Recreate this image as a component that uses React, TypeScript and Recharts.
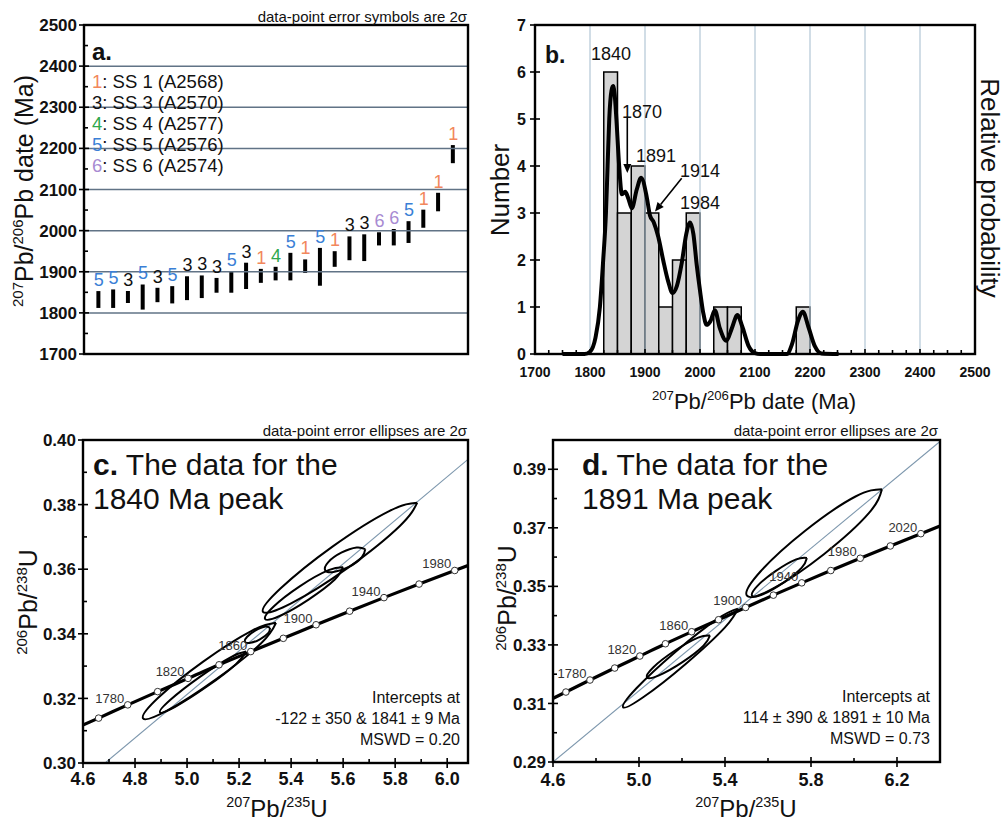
import React from "react";
import { ComposedChart, Bar, Line, Scatter, XAxis, YAxis, ReferenceLine, ReferenceArea } from "recharts";

const FONT = '"Liberation Sans", Arial, Helvetica, sans-serif';

// ---------- panel a: 207Pb/206Pb dates (2 sigma), sorted ----------
const grainNo = [1, 2, 3, 4, 5, 6, 7, 8, 9, 10, 11, 12, 13, 14, 15, 16, 17, 18, 19, 20, 21, 22, 23, 24, 25];
const dateLow = [1812, 1812, 1824, 1808, 1826, 1823, 1831, 1836, 1849, 1849, 1858, 1873, 1879, 1879, 1897, 1866, 1912, 1928, 1926, 1964, 1964, 1970, 2007, 2047, 2164];
const dateHigh = [1853, 1857, 1853, 1869, 1861, 1865, 1889, 1891, 1885, 1901, 1922, 1907, 1912, 1946, 1930, 1958, 1950, 1986, 1991, 1996, 2004, 2023, 2051, 2092, 2208];
const grainSample = [5, 5, 3, 5, 3, 5, 3, 3, 3, 5, 3, 1, 4, 5, 1, 5, 1, 3, 3, 6, 6, 5, 1, 1, 1];
const sampleIds = [1, 3, 4, 5, 6];
const sampleNames = ["SS 1 (A2568)", "SS 3 (A2570)", "SS 4 (A2577)", "SS 5 (A2576)", "SS 6 (A2574)"];
const sampleColors: Record<number, string> = { 1: "#f2875c", 3: "#111111", 4: "#2ea84c", 5: "#3a7fd6", 6: "#a88bd2" };
const aGrid = [1800, 1900, 2000, 2100, 2200, 2300, 2400];
const aTicksMajor = [1700, 1800, 1900, 2000, 2100, 2200, 2300, 2400, 2500];
const aTicksMinor = [1750, 1850, 1950, 2050, 2150, 2250, 2350, 2450];

// ---------- panel b: histogram (25 Ma bins) + probability curve ----------
const binStart = [1825, 1850, 1875, 1900, 1925, 1950, 1975, 2025, 2050, 2175];
const binWidth = 25;
const binCount = [6, 3, 4, 3, 1, 2, 3, 1, 1, 1];
const probDate = [1750, 1790, 1800, 1810, 1818, 1824, 1829, 1832, 1835, 1839, 1842, 1845, 1848, 1853, 1858, 1864, 1870, 1876, 1885, 1893, 1903, 1909, 1916, 1924, 1933, 1942, 1950, 1958, 1967, 1975, 1982, 1988, 1994, 2000, 2006, 2012, 2019, 2027, 2036, 2048, 2058, 2068, 2077, 2088, 2100, 2110, 2158, 2167, 2178, 2187, 2197, 2209, 2221, 2252];
const probValue = [0, 0, 0.05, 0.35, 1.0, 2.0, 3.0, 4.0, 5.0, 5.6, 5.7, 5.5, 5.0, 4.0, 3.4, 3.45, 3.3, 3.1, 3.5, 3.75, 3.35, 2.95, 2.8, 2.5, 2.0, 1.55, 1.3, 1.45, 1.95, 2.55, 2.8, 2.55, 1.9, 1.35, 0.87, 0.62, 0.7, 0.93, 0.55, 0.28, 0.55, 0.83, 0.58, 0.18, 0.02, 0, 0, 0.2, 0.7, 0.9, 0.58, 0.16, 0.01, 0];
const bGrid = [1800, 1900, 2000, 2100, 2200, 2300, 2400];
const bTicksMajor = [1700, 1800, 1900, 2000, 2100, 2200, 2300, 2400, 2500];
const bTicksMinor = [1725, 1750, 1775, 1825, 1850, 1875, 1925, 1950, 1975, 2025, 2050, 2075, 2125, 2150, 2175, 2225, 2250, 2275, 2325, 2350, 2375, 2425, 2450, 2475];
const bTicksY = [0, 1, 2, 3, 4, 5, 6, 7];
const peakArrows = [
  { from: [1867.8, 5.05], to: [1867.8, 3.85] },
  { from: [1966.7, 3.74], to: [1918.2, 3.03] },
];

// ---------- panels c, d: concordia ----------
const concAge = [1740, 1760, 1780, 1800, 1820, 1840, 1860, 1880, 1900, 1920, 1940, 1960, 1980, 2000, 2020, 2040];
const concX = [4.549, 4.660, 4.772, 4.887, 5.004, 5.123, 5.245, 5.370, 5.496, 5.625, 5.757, 5.892, 6.029, 6.169, 6.311, 6.457];
const concY = [0.3099, 0.3139, 0.3180, 0.3221, 0.3262, 0.3304, 0.3345, 0.3386, 0.3428, 0.3470, 0.3512, 0.3554, 0.3596, 0.3638, 0.3680, 0.3723];
const concLabelsC = [1780, 1820, 1860, 1900, 1940, 1980];
const concLabelsD = [1780, 1820, 1860, 1900, 1940, 1980, 2020];

const discordC: [number, number][] = [[4.685, 0.300], [6.08, 0.394]];
const discordD: [number, number][] = [[4.6, 0.290], [6.4, 0.3995]];

// error ellipses, points read around each outline
const ellipsesC: [number, number][][] = [
  [[5.885, 0.3806], [5.818, 0.3734], [5.618, 0.3604], [5.400, 0.3494], [5.292, 0.3468], [5.359, 0.3540], [5.559, 0.3670], [5.777, 0.3780], [5.885, 0.3806]],
  [[5.685, 0.3662], [5.672, 0.3637], [5.622, 0.3607], [5.563, 0.3591], [5.531, 0.3597], [5.543, 0.3622], [5.593, 0.3651], [5.652, 0.3667], [5.685, 0.3662]],
  [[5.600, 0.3606], [5.568, 0.3568], [5.467, 0.3506], [5.356, 0.3455], [5.300, 0.3446], [5.332, 0.3484], [5.433, 0.3547], [5.544, 0.3597], [5.600, 0.3606]],
  [[5.342, 0.3434], [5.285, 0.3371], [5.111, 0.3259], [4.923, 0.3162], [4.831, 0.3138], [4.888, 0.3201], [5.062, 0.3314], [5.250, 0.3410], [5.342, 0.3434]],
  [[5.227, 0.3345], [5.188, 0.3306], [5.075, 0.3236], [4.954, 0.3174], [4.896, 0.3157], [4.935, 0.3195], [5.048, 0.3266], [5.169, 0.3328], [5.227, 0.3345]],
  [[5.319, 0.3418], [5.312, 0.3402], [5.280, 0.3383], [5.244, 0.3372], [5.223, 0.3375], [5.231, 0.3391], [5.262, 0.3410], [5.298, 0.3422], [5.319, 0.3418]],
];
const ellipsesD: [number, number][][] = [
  [[6.130, 0.3832], [6.069, 0.3750], [5.860, 0.3610], [5.625, 0.3493], [5.502, 0.3468], [5.564, 0.3550], [5.773, 0.3690], [6.007, 0.3807], [6.130, 0.3832]],
  [[5.781, 0.3597], [5.757, 0.3564], [5.672, 0.3513], [5.576, 0.3473], [5.526, 0.3468], [5.550, 0.3501], [5.635, 0.3552], [5.731, 0.3592], [5.781, 0.3597]],
  [[5.330, 0.3332], [5.300, 0.3297], [5.202, 0.3241], [5.093, 0.3196], [5.037, 0.3189], [5.067, 0.3224], [5.166, 0.3280], [5.275, 0.3325], [5.330, 0.3332]],
  [[5.460, 0.3424], [5.400, 0.3360], [5.217, 0.3235], [5.021, 0.3122], [4.926, 0.3087], [4.987, 0.3151], [5.169, 0.3276], [5.365, 0.3389], [5.460, 0.3424]],
];

const cTicksXMajor = [4.6, 4.8, 5.0, 5.2, 5.4, 5.6, 5.8, 6.0];
const cTicksXMinor = [4.7, 4.9, 5.1, 5.3, 5.5, 5.7, 5.9];
const cTicksYMajor = [0.30, 0.32, 0.34, 0.36, 0.38, 0.40];
const cTicksYMinor = [0.31, 0.33, 0.35, 0.37, 0.39];
const dTicksXMajor = [4.6, 5.0, 5.4, 5.8, 6.2];
const dTicksXMinor = [4.8, 5.2, 5.6, 6.0];
const dTicksYMajor = [0.29, 0.31, 0.33, 0.35, 0.37, 0.39];
const dTicksYMinor = [0.30, 0.32, 0.34, 0.36, 0.38, 0.40];

// ---------- tables ----------
const grainRows = grainNo.map((n, i) => ({ n, range: [dateLow[i], dateHigh[i]], hi: dateHigh[i], s: grainSample[i] }));
const binRows = binStart.map((b, i) => ({ x0: b, x1: b + binWidth, count: binCount[i] }));
const probRows = probDate.map((x, i) => ({ x, v: probValue[i] }));
const concRows = (labels: number[]) =>
  concAge.map((t, i) => ({ x: concX[i], y: concY[i], t, lab: labels.includes(t) }));
const toRows = (pts: [number, number][]) => pts.map(([x, y]) => ({ x, y }));

// ---------- geometry ----------
const A = { W: 500, H: 400, l: 84, t: 25, r: 468, b: 354 };
const B = { W: 506, H: 420, l: 35, t: 25, r: 475, b: 354 };
const C = { W: 500, H: 405, l: 83, t: 20, r: 468, b: 343 };
const D = { W: 506, H: 405, l: 53, t: 20, r: 440, b: 342 };

const isIn = (arr: number[], v: number) => arr.some((m) => Math.abs(m - v) < 1e-9);

const leftTick = (major: number[], size: number, fmt: (v: number) => string, gap = 7) => (p: any) => {
  const { x, y, payload } = p;
  const big = isIn(major, payload.value);
  return (
    <g>
      <line x1={big ? x - 5 : x} x2={big ? x + 5 : x + 4} y1={y} y2={y} stroke="#000" strokeWidth={1.6} />
      {big && (
        <text x={x - gap} y={y} dy="0.36em" textAnchor="end" fontSize={size} fontWeight="bold" fontFamily={FONT} fill="#111">
          {fmt(payload.value)}
        </text>
      )}
    </g>
  );
};

const bottomTick = (major: number[], size: number, fmt: (v: number) => string, base = 22, cross = true) => (p: any) => {
  const { x, y, payload } = p;
  const big = isIn(major, payload.value);
  return (
    <g>
      <line x1={x} x2={x} y1={big && cross ? y + 5 : y} y2={big ? y - 5 : y - 4} stroke="#000" strokeWidth={1.6} />
      {big && (
        <text x={x} y={y + base} textAnchor="middle" fontSize={size} fontWeight="bold" fontFamily={FONT} fill="#111">
          {fmt(payload.value)}
        </text>
      )}
    </g>
  );
};

const GrainLabel = (p: any) => {
  const { cx, cy, payload } = p;
  return (
    <text x={cx} y={cy - 5} textAnchor="middle" fontSize={18} fontFamily={FONT} fill={sampleColors[payload.s]}>
      {payload.s}
    </text>
  );
};

const Arrow = (p: any) => {
  const { x1, y1, x2, y2 } = p;
  const ang = Math.atan2(y2 - y1, x2 - x1);
  const L = 9;
  const w = 4;
  const bx = x2 - L * Math.cos(ang);
  const by = y2 - L * Math.sin(ang);
  const pts = `${x2},${y2} ${bx - w * Math.sin(ang)},${by + w * Math.cos(ang)} ${bx + w * Math.sin(ang)},${by - w * Math.cos(ang)}`;
  return (
    <g>
      <line x1={x1} y1={y1} x2={bx} y2={by} stroke="#000" strokeWidth={1.6} />
      <polygon points={pts} fill="#000" />
    </g>
  );
};

const ConcDot = (p: any) => {
  const { cx, cy, payload, index } = p;
  if (cx == null || cy == null) return <g key={`d${index}`} />;
  return (
    <g key={`d${index}`}>
      <circle cx={cx} cy={cy} r={3.3} fill="#fff" stroke="#333" strokeWidth={1} />
      {payload.lab ? (
        <text x={cx - 18} y={cy - 2} textAnchor="middle" fontSize={13} fontFamily={FONT} fill="#333">
          {payload.t}
        </text>
      ) : null}
    </g>
  );
};

const iso = (size: number, parts: [string, string][]) =>
  parts.flatMap(([sup, main], i) => [
    <tspan key={`s${i}`} fontSize={size * 0.6} dy={-size * 0.42}>{sup}</tspan>,
    <tspan key={`m${i}`} fontSize={size} dy={size * 0.42}>{main}</tspan>,
  ]);

function ConcordiaPanel(props: {
  g: typeof C; left: number; top: number; xDomain: [number, number]; yDomain: [number, number];
  xMajor: number[]; xMinor: number[]; yMajor: number[]; yMinor: number[];
  labels: number[]; discord: [number, number][]; ellipses: [number, number][][]; xBase: number;
}) {
  const { g } = props;
  return (
    <div style={{ position: "absolute", left: props.left, top: props.top }}>
      <ComposedChart width={g.W} height={g.H} margin={{ top: g.t, right: g.W - g.r, bottom: g.H - g.b - 30, left: 0 }}>
        <XAxis
          type="number" dataKey="x" domain={props.xDomain} allowDataOverflow
          ticks={[...props.xMajor, ...props.xMinor].sort((a, b) => a - b)} interval={0}
          height={30} axisLine={false} tickLine={false} tickSize={0} tickMargin={0}
          tick={bottomTick(props.xMajor, 18, (v) => v.toFixed(1), props.xBase)}
        />
        <YAxis
          type="number" domain={props.yDomain} allowDataOverflow
          ticks={[...props.yMajor, ...props.yMinor].sort((a, b) => a - b)} interval={0}
          width={g.l} axisLine={false} tickLine={false} tickSize={0} tickMargin={0}
          tick={leftTick(props.yMajor, 17, (v) => v.toFixed(2))}
        />
        <Line data={toRows(props.discord)} dataKey="y" type="linear" stroke="#7d97ad" strokeWidth={1.1} dot={false} activeDot={false} isAnimationActive={false} />
        {props.ellipses.map((e, i) => (
          <Line key={`e${i}`} data={toRows(e)} dataKey="y" type="natural" stroke="#000" strokeWidth={2} dot={false} activeDot={false} isAnimationActive={false} />
        ))}
        <Line data={concRows(props.labels)} dataKey="y" type="monotone" stroke="#000" strokeWidth={3.2} dot={ConcDot} activeDot={false} isAnimationActive={false} />
      </ComposedChart>
    </div>
  );
}

export default function App() {
  const frame = (g: typeof A, ox: number, oy: number) => (
    <rect x={ox + g.l} y={oy + g.t} width={g.r - g.l} height={g.b - g.t} fill="none" stroke="#000" strokeWidth={2.4} />
  );
  const tStyle = { fontFamily: FONT, fill: "#111" } as const;
  return (
    <div style={{ position: "absolute", left: 0, top: 0, width: 1006, height: 825, background: "#fff", overflow: "hidden" }}>
      {/* a */}
      <div style={{ position: "absolute", left: 0, top: 0 }}>
        <ComposedChart width={A.W} height={A.H} data={grainRows} margin={{ top: A.t, right: A.W - A.r, bottom: A.H - A.b, left: 0 }}>
          <XAxis type="number" dataKey="n" domain={[0, 26]} hide />
          <YAxis
            type="number" domain={[1700, 2500]} ticks={[...aTicksMajor, ...aTicksMinor].sort((a, b) => a - b)} interval={0}
            width={A.l} axisLine={false} tickLine={false} tickSize={0} tickMargin={0}
            tick={leftTick(aTicksMajor, 17, (v) => String(v))}
          />
          {aGrid.map((v) => (
            <ReferenceLine key={v} y={v} stroke="#617386" strokeWidth={1.5} />
          ))}
          <Bar dataKey="range" fill="#000" barSize={4} isAnimationActive={false} />
          <Scatter data={grainRows} dataKey="hi" shape={GrainLabel} isAnimationActive={false} />
        </ComposedChart>
      </div>

      {/* b */}
      <div style={{ position: "absolute", left: 500, top: 0 }}>
        <ComposedChart width={B.W} height={B.H} margin={{ top: B.t, right: B.W - B.r, bottom: B.H - B.b - 30, left: 0 }}>
          <XAxis
            type="number" dataKey="x" domain={[1700, 2500]} ticks={[...bTicksMajor, ...bTicksMinor].sort((a, b) => a - b)} interval={0}
            height={30} axisLine={false} tickLine={false} tickSize={0} tickMargin={0}
            tick={bottomTick(bTicksMajor, 14, (v) => String(v), 23, false)}
          />
          <YAxis
            type="number" domain={[0, 7]} ticks={bTicksY} interval={0}
            width={B.l} axisLine={false} tickLine={false} tickSize={0} tickMargin={0}
            tick={leftTick(bTicksY, 16, (v) => String(v), 9)}
          />
          {bGrid.map((v) => (
            <ReferenceLine key={v} x={v} stroke="#b3c6d6" strokeWidth={1.2} />
          ))}
          {binRows.map((r) => (
            <ReferenceArea
              key={r.x0} x1={r.x0} x2={r.x1} y1={0} y2={r.count}
              fill="#d4d4d4" fillOpacity={1} stroke="#000" strokeWidth={1.5} ifOverflow="visible"
            />
          ))}
          <Line data={probRows} dataKey="v" type="monotone" stroke="#000" strokeWidth={4} dot={false} activeDot={false} isAnimationActive={false} />
          {peakArrows.map((a, i) => (
            <ReferenceLine key={`ar${i}`} segment={[{ x: a.from[0], y: a.from[1] }, { x: a.to[0], y: a.to[1] }]} shape={Arrow} />
          ))}
        </ComposedChart>
      </div>

      <ConcordiaPanel
        g={C} left={0} top={420} xDomain={[4.6, 6.08]} yDomain={[0.3, 0.4]}
        xMajor={cTicksXMajor} xMinor={cTicksXMinor} yMajor={cTicksYMajor} yMinor={cTicksYMinor}
        labels={concLabelsC} discord={discordC} ellipses={ellipsesC} xBase={22}
      />
      <ConcordiaPanel
        g={D} left={500} top={420} xDomain={[4.6, 6.4]} yDomain={[0.29, 0.4]}
        xMajor={dTicksXMajor} xMinor={dTicksXMinor} yMajor={dTicksYMajor} yMinor={dTicksYMinor}
        labels={concLabelsD} discord={discordD} ellipses={ellipsesD} xBase={24}
      />

      {/* frames and text */}
      <svg width={1006} height={825} style={{ position: "absolute", left: 0, top: 0, pointerEvents: "none" }}>
        {frame(A, 0, 0)}
        {frame(B, 500, 0)}
        {frame(C, 0, 420)}
        {frame(D, 500, 420)}

        {/* a */}
        <text x={467} y={22} textAnchor="end" fontSize={15} {...tStyle}>data-point error symbols are 2σ</text>
        <text x={92} y={60} fontSize={24} fontWeight="bold" {...tStyle}>a.</text>
        {sampleIds.map((s, i) => (
          <text key={s} x={92} y={88 + i * 20.9} fontSize={18.5} {...tStyle}>
            <tspan fill={sampleColors[s]}>{s}</tspan>
            <tspan>{`: ${sampleNames[i]}`}</tspan>
          </text>
        ))}
        <text transform="translate(33,191) rotate(-90)" textAnchor="middle" fontSize={25} {...tStyle}>
          {iso(25, [["207", "Pb/"], ["206", "Pb date (Ma)"]])}
        </text>

        {/* b */}
        <text x={545} y={63} fontSize={23} fontWeight="bold" {...tStyle}>b.</text>
        <text x={611} y={60} textAnchor="middle" fontSize={18} {...tStyle}>1840</text>
        <text x={642} y={118} textAnchor="middle" fontSize={18} {...tStyle}>1870</text>
        <text x={656} y={162} textAnchor="middle" fontSize={18} {...tStyle}>1891</text>
        <text x={700} y={177} textAnchor="middle" fontSize={18} {...tStyle}>1914</text>
        <text x={700} y={209} textAnchor="middle" fontSize={18} {...tStyle}>1984</text>
        <text transform="translate(509,190) rotate(-90)" textAnchor="middle" fontSize={26} {...tStyle}>Number</text>
        <text transform="translate(981,188) rotate(90)" textAnchor="middle" fontSize={26} {...tStyle}>Relative probability</text>
        <text x={754} y={409} textAnchor="middle" fontSize={22} {...tStyle}>
          {iso(22, [["207", "Pb/"], ["206", "Pb date (Ma)"]])}
        </text>

        {/* c */}
        <text x={467} y={436} textAnchor="end" fontSize={15} {...tStyle}>data-point error ellipses are 2σ</text>
        <text x={93} y={475} fontSize={30} {...tStyle}>
          <tspan fontWeight="bold">c.</tspan> The data for the
        </text>
        <text x={93} y={509} fontSize={30} {...tStyle}>1840 Ma peak</text>
        <text x={460} y={703} textAnchor="end" fontSize={16} {...tStyle}>Intercepts at</text>
        <text x={460} y={724} textAnchor="end" fontSize={16} {...tStyle}>-122 ± 350 &amp; 1841 ± 9 Ma</text>
        <text x={460} y={745} textAnchor="end" fontSize={16} {...tStyle}>MSWD = 0.20</text>
        <text transform="translate(37,602) rotate(-90)" textAnchor="middle" fontSize={25} {...tStyle}>
          {iso(25, [["206", "Pb/"], ["238", "U"]])}
        </text>
        <text x={277} y={817} textAnchor="middle" fontSize={24} {...tStyle}>
          {iso(24, [["207", "Pb/"], ["235", "U"]])}
        </text>

        {/* d */}
        <text x={938} y={436} textAnchor="end" fontSize={15} {...tStyle}>data-point error ellipses are 2σ</text>
        <text x={582} y={475} fontSize={30} {...tStyle}>
          <tspan fontWeight="bold">d.</tspan> The data for the
        </text>
        <text x={582} y={509} fontSize={30} {...tStyle}>1891 Ma peak</text>
        <text x={930} y={702} textAnchor="end" fontSize={16} {...tStyle}>Intercepts at</text>
        <text x={930} y={723} textAnchor="end" fontSize={16} {...tStyle}>114 ± 390 &amp; 1891 ± 10 Ma</text>
        <text x={930} y={744} textAnchor="end" fontSize={16} {...tStyle}>MSWD = 0.73</text>
        <text transform="translate(516,598) rotate(-90)" textAnchor="middle" fontSize={25} {...tStyle}>
          {iso(25, [["206", "Pb/"], ["238", "U"]])}
        </text>
        <text x={746} y={817} textAnchor="middle" fontSize={24} {...tStyle}>
          {iso(24, [["207", "Pb/"], ["235", "U"]])}
        </text>
      </svg>
    </div>
  );
}
